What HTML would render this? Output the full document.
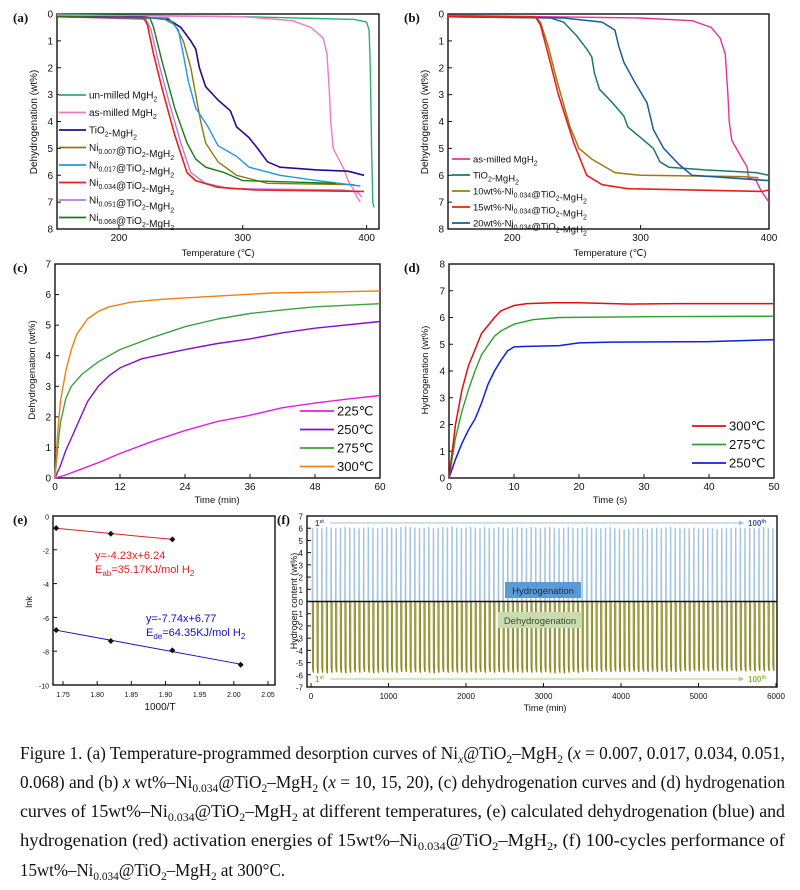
<!DOCTYPE html>
<html><head><meta charset="utf-8">
<style>
html,body{margin:0;padding:0;background:#fff;}
svg{display:block;font-family:"Liberation Sans",sans-serif;}
.cap{font-family:"Liberation Serif",serif;font-size:18px;fill:#111;}
</style></head>
<body>
<svg id="fig" width="800" height="890" viewBox="0 0 800 890" xmlns="http://www.w3.org/2000/svg">
<g id="layer"></g>
<g class="cap">
<text x="20" y="759" textLength="765" lengthAdjust="spacingAndGlyphs">Figure 1. (a) Temperature-programmed desorption curves of Ni<tspan font-style="italic" font-size="12" dy="4">x</tspan><tspan dy="-4">@TiO</tspan><tspan font-size="12" dy="4">2</tspan><tspan dy="-4">–MgH</tspan><tspan font-size="12" dy="4">2</tspan><tspan dy="-4"> (</tspan><tspan font-style="italic">x</tspan> = 0.007, 0.017, 0.034, 0.051,</text>
<text x="20" y="788" textLength="765" lengthAdjust="spacingAndGlyphs">0.068) and (b) <tspan font-style="italic">x</tspan> wt%–Ni<tspan font-size="12" dy="4">0.034</tspan><tspan dy="-4">@TiO</tspan><tspan font-size="12" dy="4">2</tspan><tspan dy="-4">–MgH</tspan><tspan font-size="12" dy="4">2</tspan><tspan dy="-4"> (</tspan><tspan font-style="italic">x</tspan> = 10, 15, 20), (c) dehydrogenation curves and (d) hydrogenation</text>
<text x="20" y="817" textLength="765" lengthAdjust="spacingAndGlyphs">curves of 15wt%–Ni<tspan font-size="12" dy="4">0.034</tspan><tspan dy="-4">@TiO</tspan><tspan font-size="12" dy="4">2</tspan><tspan dy="-4">–MgH</tspan><tspan font-size="12" dy="4">2</tspan><tspan dy="-4"> at different temperatures, (e) calculated dehydrogenation (blue) and</tspan></text>
<text x="20" y="846" textLength="765" lengthAdjust="spacingAndGlyphs">hydrogenation (red) activation energies of 15wt%–Ni<tspan font-size="12" dy="4">0.034</tspan><tspan dy="-4">@TiO</tspan><tspan font-size="12" dy="4">2</tspan><tspan dy="-4">–MgH</tspan><tspan font-size="12" dy="4">2</tspan><tspan dy="-4">, (f) 100-cycles performance of</tspan></text>
<text x="20" y="876" textLength="265" lengthAdjust="spacingAndGlyphs">15wt%–Ni<tspan font-size="12" dy="4">0.034</tspan><tspan dy="-4">@TiO</tspan><tspan font-size="12" dy="4">2</tspan><tspan dy="-4">–MgH</tspan><tspan font-size="12" dy="4">2</tspan><tspan dy="-4"> at 300°C.</tspan></text>
</g>
</svg>
<script>
// ---------- data: panel (a) ----------
const aTicksX=[200,300,400];
const aTicksY=[0,1,2,3,4,5,6,7,8];
const aUnmilled=[[150,0.02],[300,0.1],[390,0.2],[400,0.3],[402,0.6],[403,2],[404,5],[405,7],[406,7.2]];
const aAsMilled=[[150,0.05],[300,0.1],[340,0.25],[355,0.5],[365,0.9],[368,1.5],[370,3],[371,4],[373,5],[382,5.8],[385,6.2],[389,6.5],[392,6.8],[395,7.0]];
const aTiO2=[[150,0.1],[220,0.12],[240,0.2],[250,0.5],[258,1.0],[262,1.3],[265,2.0],[270,2.7],[280,3.2],[290,3.6],[295,4.2],[305,4.6],[312,5.0],[320,5.5],[330,5.7],[360,5.8],[385,5.85],[398,6.0]];
const aNi007=[[150,0.1],[235,0.15],[245,0.4],[252,1.0],[258,2.0],[262,3.0],[266,4.0],[270,4.8],[280,5.5],[295,6.0],[320,6.3],[390,6.35]];
const aNi017=[[150,0.1],[240,0.15],[248,0.6],[252,1.5],[256,2.5],[262,3.5],[272,4.2],[280,4.9],[295,5.3],[305,5.7],[330,6.0],[360,6.2],[395,6.4]];
const aNi034=[[150,0.1],[220,0.15],[223,0.4],[228,1.5],[235,2.8],[245,4.5],[255,5.9],[262,6.2],[280,6.45],[310,6.55],[398,6.6]];
const aNi051=[[150,0.1],[222,0.2],[226,0.6],[232,1.8],[240,3.2],[250,4.8],[258,5.9],[270,6.3],[290,6.5],[380,6.55],[392,6.6],[396,6.8]];
const aNi068=[[150,0.1],[225,0.15],[228,0.5],[235,1.8],[245,3.5],[255,4.8],[262,5.4],[270,5.7],[285,5.9],[300,6.2],[375,6.3]];
// ---------- data: panel (b) ----------
const bTicksX=[200,300,400];
const bAsMilled=[[150,0.05],[300,0.15],[340,0.25],[355,0.5],[362,0.9],[366,1.5],[368,3],[369,4],[371,4.7],[378,5.3],[383,5.7],[384,6.1],[390,6.2],[393,6.5],[397,6.8],[400,7.0]];
const bTiO2=[[150,0.1],[230,0.15],[240,0.3],[250,0.8],[258,1.3],[262,1.6],[264,2.2],[268,2.8],[278,3.3],[287,3.8],[290,4.2],[300,4.6],[310,5.0],[315,5.5],[322,5.7],[350,5.8],[390,5.9],[400,6.0]];
const b10=[[150,0.1],[218,0.1],[222,0.3],[228,1.2],[235,2.5],[245,4.2],[252,5.0],[262,5.4],[280,5.9],[300,6.0],[380,6.05],[392,6.1]];
const b15=[[150,0.1],[218,0.1],[222,0.4],[228,1.5],[236,3.0],[248,4.8],[258,6.0],[270,6.35],[290,6.5],[395,6.6],[400,6.55]];
const b20=[[150,0.1],[240,0.15],[270,0.3],[280,0.6],[283,1.2],[287,1.8],[295,2.5],[305,3.3],[310,4.3],[318,5.0],[330,5.6],[340,6.0],[400,6.2]];
// ---------- data: panel (c) ----------
const cTicksX=[0,12,24,36,48,60];
const cTicksY=[0,1,2,3,4,5,6,7];
const c300=[[0,0],[0.5,1.5],[1,2.5],[2,3.5],[3,4.2],[4,4.7],[6,5.2],[8,5.45],[10,5.6],[14,5.75],[20,5.85],[30,5.95],[40,6.05],[50,6.08],[60,6.12]];
const c275=[[0,0],[0.5,1],[1,1.8],[2,2.6],[3,3.0],[5,3.4],[8,3.8],[12,4.2],[18,4.6],[24,4.95],[30,5.2],[36,5.38],[42,5.5],[48,5.6],[60,5.7]];
const c250=[[0,0],[1,0.4],[2,0.9],[4,1.7],[6,2.5],[8,3.0],[10,3.35],[12,3.6],[16,3.9],[20,4.05],[24,4.2],[30,4.4],[36,4.55],[42,4.75],[48,4.9],[60,5.12]];
const c225=[[0,0],[2,0.1],[5,0.3],[8,0.5],[12,0.8],[18,1.2],[24,1.55],[30,1.85],[36,2.05],[42,2.3],[48,2.45],[54,2.58],[60,2.7]];
// ---------- data: panel (d) ----------
const dTicksX=[0,10,20,30,40,50];
const dTicksY=[0,1,2,3,4,5,6,7,8];
const d300=[[0,0],[1,2],[2,3.3],[3,4.2],[4,4.8],[5,5.4],[6,5.7],[7,6.0],[8,6.25],[10,6.45],[12,6.52],[16,6.55],[20,6.55],[28,6.5],[35,6.52],[50,6.52]];
const d275=[[0,0],[1,1.5],[2,2.5],[3,3.3],[4,4],[5,4.6],[7,5.3],[8,5.5],[10,5.75],[13,5.92],[17,6.0],[30,6.03],[50,6.05]];
const d250=[[0,0],[1,0.7],[2,1.3],[3,1.8],[4,2.2],[5,2.8],[6,3.5],[7,4.0],[8,4.4],[9,4.75],[10,4.9],[12,4.92],[17,4.95],[20,5.05],[25,5.08],[40,5.1],[50,5.17]];
// ---------- data: panel (e) ----------
const eTicksX=[1.75,1.80,1.85,1.90,1.95,2.00,2.05];
const eTicksY=[0,-2,-4,-6,-8,-10];
const eAbsX=[1.74,1.82,1.91];
const eAbsY=[-0.72,-1.05,-1.38];
const eDesX=[1.74,1.82,1.91,2.01];
const eDesY=[-6.75,-7.4,-7.95,-8.8];
// ---------- data: panel (f) ----------
const fTicksX=[0,1000,2000,3000,4000,5000,6000];
const fTicksY=[7,6,5,4,3,2,1,0,-1,-2,-3,-4,-5,-6,-7];
const fPeaks=[6.0,6.05,6.0,6.1,6.05,6.0,6.05,6.1,6.05,6.05,6.0,6.05,6.1,6.05,6.0,6.05,6.1,6.05,6.0,6.1,6.15,6.1,6.05,6.0,6.05,6.1,6.0,6.05,6.1,6.05,6.15,6.05,6.0,6.05,6.1,6.05,6.0,6.1,6.05,6.0,6.1,6.05,6.0,6.05,6.1,6.05,6.0,6.1,6.05,6.0,6.05,6.1,6.05,6.0,6.05,6.1,6.05,6.0,6.05,6.1,6.0,6.05,6.0,6.05,6.1,6.0,5.95,5.9,5.95,6.0,6.05,6.0,5.95,6.0,6.05,6.0,6.05,6.1,6.05,6.0,6.05,6.0,6.05,6.0,6.0,6.05,6.0,5.95,6.0,6.05,6.0,6.05,6.05,6.0,6.05,6.0,6.05,6.1,6.05,6.0];
const fTroughs=[-5.85,-5.9,-5.85,-5.9,-5.85,-5.8,-5.85,-5.9,-5.85,-5.8,-5.85,-5.8,-5.85,-5.9,-5.85,-5.8,-5.85,-5.8,-5.85,-5.8,-5.8,-5.85,-5.8,-5.85,-5.8,-5.85,-5.9,-5.85,-5.8,-5.85,-5.8,-5.85,-5.8,-5.85,-5.8,-5.85,-5.8,-5.85,-5.8,-5.85,-5.8,-5.85,-5.8,-5.85,-5.8,-5.85,-5.8,-5.85,-5.8,-5.85,-5.8,-5.85,-5.9,-5.85,-5.9,-5.85,-5.8,-5.85,-5.8,-5.75,-5.8,-5.75,-5.8,-5.75,-5.8,-5.75,-5.8,-5.75,-5.8,-5.75,-5.8,-5.75,-5.8,-5.75,-5.8,-5.75,-5.8,-5.75,-5.8,-5.75,-5.7,-5.75,-5.7,-5.75,-5.7,-5.75,-5.7,-5.75,-5.7,-5.75,-5.7,-5.75,-5.7,-5.75,-5.7,-5.75,-5.7,-5.75,-5.7,-5.7];

const NS="http://www.w3.org/2000/svg";
const layer=document.getElementById('layer');
function mk(tag,attrs,parent){const e=document.createElementNS(NS,tag);for(const k in attrs)e.setAttribute(k,attrs[k]);(parent||layer).appendChild(e);return e;}
function lin(d0,d1,p0,p1){return v=>p0+(v-d0)*(p1-p0)/(d1-d0);}
function txt(s,x,y,size,anchor,parent,extra){const t=mk('text',Object.assign({x:x,y:y,'font-size':size,'text-anchor':anchor||'middle',fill:'#111'},extra||{}),parent);t.innerHTML=s;return t;}

function axes(name,box,xs,ys,xt,yt,fmtx,fmty,size){
  const g=mk('g',{});
  
  
  const fr=mk('rect',{x:box[0],y:box[1],width:box[2]-box[0],height:box[3]-box[1],fill:'none',stroke:'#111','stroke-width':1.4},g);
  
  
  xt.forEach(v=>{const x=xs(v);mk('line',{x1:x,x2:x,y1:box[3],y2:box[3]-4,stroke:'#111'},g);
    const t=txt(fmtx(v),x,box[3]+12,size,'middle',g);
    
    });
  yt.forEach(v=>{const y=ys(v);mk('line',{x1:box[0],x2:box[0]+4,y1:y,y2:y,stroke:'#111'},g);
    const t=txt(fmty(v),box[0]-4,y+3.5,size,'end',g);
    
    });
  return g;
}
function curve(name,data,xs,ys,color,w,g){
  const d=data.map((p,i)=>(i?'L':'M')+xs(p[0]).toFixed(1)+','+ys(p[1]).toFixed(1)).join('');
  const p=mk('path',{d:d,fill:'none',stroke:color,'stroke-width':w||1.4,'stroke-linejoin':'round'},g);
  
  
  return p;
}
function legend(name,entries,x,y0,dy,len,size,g){
  const lg=mk('g',{},g);
  
  
  entries.forEach((e,i)=>{const y=y0+i*dy;
    mk('line',{x1:x,x2:x+len,y1:y,y2:y,stroke:e[1],'stroke-width':1.8},lg);
    const t=txt(e[0],x+len+3,y+size*0.35,size,'start',lg);
    
    });
}
function label(s,x,y,g){const t=txt(s,x,y,13,'start',g,{'font-family':'Liberation Serif, serif','font-weight':'bold'});
  
  }
function ytitle(s,x,y,size,g){const t=txt(s,x,y,size,'middle',g,{transform:`rotate(-90 ${x} ${y})`});
  
  }
function xtitle(s,x,y,size,g){const t=txt(s,x,y,size,'middle',g);
  
  }
const sub=s=>`<tspan font-size="7" dy="3">${s}</tspan><tspan dy="-3"></tspan>`;

// ---------- panel a ----------
{const box=[57,14,379,229];const xs=lin(150,410,57,379),ys=lin(0,8,14,229);
 const g=axes('panel-a',box,xs,ys,aTicksX,aTicksY,v=>v,v=>v,10);
 curve('unmilled-mgh2-line',aUnmilled,xs,ys,'#2bb06a',1.4,g);
 curve('as-milled-mgh2-line',aAsMilled,xs,ys,'#f078c8',1.4,g);
 curve('tio2-mgh2-line',aTiO2,xs,ys,'#2a0a8c',1.6,g);
 curve('ni0007-line',aNi007,xs,ys,'#8c7a10',1.4,g);
 curve('ni0017-line',aNi017,xs,ys,'#1a9ae6',1.4,g);
 curve('ni0051-line',aNi051,xs,ys,'#b878e8',1.4,g);
 curve('ni0034-line',aNi034,xs,ys,'#e8201a',1.6,g);
 curve('ni0068-line',aNi068,xs,ys,'#1a7a1a',1.4,g);
 legend('legend-a',[['un-milled MgH'+sub(2),'#2bb06a'],['as-milled MgH'+sub(2),'#f078c8'],['TiO'+sub(2)+'-MgH'+sub(2),'#2a0a8c'],
  ['Ni'+sub('0.007')+'@TiO'+sub(2)+'-MgH'+sub(2),'#8c7a10'],['Ni'+sub('0.017')+'@TiO'+sub(2)+'-MgH'+sub(2),'#1a9ae6'],
  ['Ni'+sub('0.034')+'@TiO'+sub(2)+'-MgH'+sub(2),'#e8201a'],['Ni'+sub('0.051')+'@TiO'+sub(2)+'-MgH'+sub(2),'#b878e8'],
  ['Ni'+sub('0.068')+'@TiO'+sub(2)+'-MgH'+sub(2),'#1a7a1a']],59,95,17.5,27,10,g);
 label('(a)',13,22,g); ytitle('Dehydrogenation (wt%)',37,122,10,g); xtitle('Temperature (℃)',218,256,9.5,g);}
// ---------- panel b ----------
{const box=[448,14,769,229];const xs=lin(150,400,448,769),ys=lin(0,8,14,229);
 const g=axes('panel-b',box,xs,ys,bTicksX,aTicksY,v=>v,v=>v,10);
 curve('as-milled-mgh2-line',bAsMilled,xs,ys,'#e8309c',1.4,g);
 curve('tio2-mgh2-line',bTiO2,xs,ys,'#1a7a6a',1.5,g);
 curve('10wt-line',b10,xs,ys,'#9a7a10',1.5,g);
 curve('20wt-line',b20,xs,ys,'#1a5a9a',1.5,g);
 curve('15wt-line',b15,xs,ys,'#e8201a',1.6,g);
 legend('legend-b',[['as-milled MgH'+sub(2),'#e8309c'],['TiO'+sub(2)+'-MgH'+sub(2),'#1a7a6a'],
  ['10wt%-Ni'+sub('0.034')+'@TiO'+sub(2)+'-MgH'+sub(2),'#9a7a10'],['15wt%-Ni'+sub('0.034')+'@TiO'+sub(2)+'-MgH'+sub(2),'#e8201a'],
  ['20wt%-Ni'+sub('0.034')+'@TiO'+sub(2)+'-MgH'+sub(2),'#1a5a9a']],452,159,16,18,9.5,g);
 label('(b)',404,22,g); ytitle('Dehydrogenation (wt%)',428,122,10,g); xtitle('Temperature (℃)',610,256,9.5,g);}
// ---------- panel c ----------
{const box=[55,264,380,478];const xs=lin(0,60,55,380),ys=lin(0,7,478,264);
 const g=axes('panel-c',box,xs,ys,cTicksX,cTicksY,v=>v,v=>v,10);
 curve('225c-line',c225,xs,ys,'#e020e0',1.4,g);
 curve('250c-line',c250,xs,ys,'#8010d0',1.4,g);
 curve('275c-line',c275,xs,ys,'#40a040',1.4,g);
 curve('300c-line',c300,xs,ys,'#f08010',1.4,g);
 legend('legend-c',[['225℃','#e020e0'],['250℃','#8010d0'],['275℃','#40a040'],['300℃','#f08010']],300,411,18.5,34,13,g);
 label('(c)',13,272,g); ytitle('Dehydrogenation (wt%)',35,370,9.5,g); xtitle('Time (min)',217,503,9.5,g);}
// ---------- panel d ----------
{const box=[449,264,774,478];const xs=lin(0,50,449,774),ys=lin(0,8,478,264);
 const g=axes('panel-d',box,xs,ys,dTicksX,dTicksY,v=>v,v=>v,10);
 curve('250c-line',d250,xs,ys,'#1020e0',1.5,g);
 curve('275c-line',d275,xs,ys,'#30a030',1.4,g);
 curve('300c-line',d300,xs,ys,'#e01010',1.5,g);
 legend('legend-d',[['300℃','#e01010'],['275℃','#30a030'],['250℃','#1020e0']],692,426,18.5,34,13,g);
 label('(d)',404,272,g); ytitle('Hydrogenation (wt%)',428,370,9.5,g); xtitle('Time (s)',610,503,9.5,g);}
// ---------- panel e ----------
{const box=[53,516,275,685];const xs=lin(1.75,2.05,63,268),ys=lin(0,-10,516,685);
 const g=axes('panel-e',box,xs,ys,eTicksX,eTicksY,v=>v.toFixed(2),v=>v,7);
 function fit(X,Y){const n=X.length,mx=X.reduce((a,b)=>a+b)/n,my=Y.reduce((a,b)=>a+b)/n;
   let sxy=0,sxx=0;X.forEach((x,i)=>{sxy+=(x-mx)*(Y[i]-my);sxx+=(x-mx)*(x-mx);});const m=sxy/sxx;return x=>my+m*(x-mx);}
 [[eAbsX,eAbsY,'#e02020','absorption'],[eDesX,eDesY,'#1010c0','desorption']].forEach(([X,Y,c,n])=>{
   const f=fit(X,Y);const x0=X[0],x1=X[X.length-1];
   const l=mk('line',{x1:xs(x0),y1:ys(f(x0)),x2:xs(x1),y2:ys(f(x1)),stroke:c,'stroke-width':1},g);
   
   
   X.forEach((x,i)=>{const p=mk('path',{d:`M${xs(x)},${ys(Y[i])-3}l3,3l-3,3l-3,-3z`,fill:'#111'},g);
     
     });
 });
 const a1=txt('y=-4.23x+6.24',95,559,11,'start',g,{fill:'#e02020'});
 
 
 const a2=txt('E<tspan font-size="8" dy="3">ab</tspan><tspan dy="-3">=35.17KJ/mol H</tspan><tspan font-size="8" dy="3">2</tspan>',95,573,11,'start',g,{fill:'#e02020'});
 
 
 const b1=txt('y=-7.74x+6.77',146,622,11,'start',g,{fill:'#1010c0'});
 
 
 const b2=txt('E<tspan font-size="8" dy="3">de</tspan><tspan dy="-3">=64.35KJ/mol H</tspan><tspan font-size="8" dy="3">2</tspan>',146,636,11,'start',g,{fill:'#1010c0'});
 
 
 label('(e)',13,524,g); ytitle('lnk',32,602,9,g); xtitle('1000/T',160,710,10,g);}
// ---------- panel f ----------
{const box=[307,516,777,687];const xs=lin(0,6000,311,776),ys=lin(7,-7,516,687);
 const g=axes('panel-f',box,xs,ys,fTicksX,fTicksY,v=>v,v=>v,8);
 const z=ys(0);
 fPeaks.forEach((v,i)=>{const t=15+60*i;
   const l=mk('path',{d:`M${xs(t)},${z}L${xs(t+3)},${ys(v)}L${xs(t+8)},${ys(v-0.1)}L${xs(t+9)},${z}`,fill:'none',stroke:'#a6c6e0','stroke-width':1.1},g);
   
   });
 fTroughs.forEach((v,i)=>{const t=17+60*i;
   const l=mk('path',{d:`M${xs(t)},${z}L${xs(t+2)},${ys(v+0.7)}Q${xs(t+5)},${ys(v)} ${xs(t+16)},${ys(v+0.05)}L${xs(t+16)},${z}`,fill:'none',stroke:'#8a8a22','stroke-width':1},g);
   
   });
 const zl=mk('line',{x1:box[0],x2:box[2],y1:z,y2:z,stroke:'#111','stroke-width':1.4},g);
 
 
 const hb=mk('rect',{x:505,y:582,width:76,height:16,fill:'#5b9bd5'},g);
 
 
 txt('Hydrogenation',543,594,9.5,'middle',g,{fill:'#1a2a4a'});
 const db=mk('rect',{x:498,y:612,width:84,height:16,fill:'#c8dcb0'},g);
 
 
 txt('Dehydrogenation',540,624,9.5,'middle',g,{fill:'#3a4a2a'});
 [[523,'#9cc0dc','#3a5a9a'],[679,'#a8d070','#8ac040']].forEach(([y,lc,tc])=>{
   const a=mk('line',{x1:330,x2:742,y1:y,y2:y,stroke:lc,'stroke-width':1},g);
   
   
   mk('path',{d:`M744,${y}l-5,-2.5v5z`,fill:lc},g);
   txt('1<tspan font-size="5" dy="-3">st</tspan>',315,y+3,8,'start',g,{fill:tc,'font-weight':'bold'});
   txt('100<tspan font-size="5" dy="-3">th</tspan>',748,y+3,8,'start',g,{fill:tc,'font-weight':'bold'});});
 label('(f)',277,524,g); ytitle('Hydrogen content (wt%)',297,601,9,g); xtitle('Time (min)',545,711,9,g);}
</script>
</body></html>
